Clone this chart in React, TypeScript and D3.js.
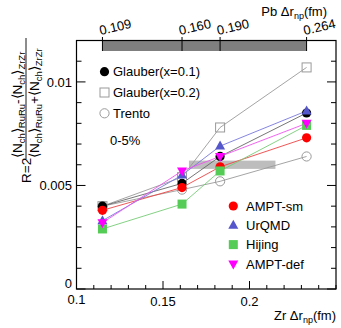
import React from "react";
import * as d3 from "d3";

const zrDeltaR = [0.115, 0.161, 0.183, 0.233];
const pbLabels = ["0.109", "0.160", "0.190", "0.264"];

const glauber01 = [0.0040, 0.0051, 0.0064, 0.0085];
const glauber02 = [0.0040, 0.0054, 0.0078, 0.0107];
const trento = [0.0040, 0.0048, 0.0052, 0.0064];
const amptSm = [0.0038, 0.0049, 0.0059, 0.0073];
const urqmd = [0.0033, 0.0055, 0.0069, 0.0086];
const hijing = [0.0029, 0.0041, 0.0057, 0.0079];
const amptDef = [0.0032, 0.0057, 0.0064, 0.0080];

const bandX = [0.165, 0.215];
const bandY = [0.0058, 0.0062];

const xMajor = [0.1, 0.15, 0.2];
const xMajorLabels = ["0.1", "0.15", "0.2"];
const yMajor = [0, 0.005, 0.01];
const yMajorLabels = ["0", "0.005", "0.01"];

type Series = { name: string; values: number[]; color: string; line: string; shape: string; fill: boolean };

const series: Series[] = [
  { name: "Glauber(x=0.2)", values: glauber02, color: "#9a9a9a", line: "#9a9a9a", shape: "square", fill: false },
  { name: "Trento", values: trento, color: "#9a9a9a", line: "#9a9a9a", shape: "circle", fill: false },
  { name: "Glauber(x=0.1)", values: glauber01, color: "#000000", line: "#666666", shape: "circle", fill: true },
  { name: "AMPT-sm", values: amptSm, color: "#ff0000", line: "#ee4444", shape: "circle", fill: true },
  { name: "Hijing", values: hijing, color: "#55cc55", line: "#77cc77", shape: "square", fill: true },
  { name: "UrQMD", values: urqmd, color: "#5555cc", line: "#7777dd", shape: "triangle", fill: true },
  { name: "AMPT-def", values: amptDef, color: "#ff00ff", line: "#ee55ee", shape: "invtriangle", fill: true },
];

const FONT = "'Liberation Sans', Arial, Helvetica, sans-serif";

function Marker({ shape, x, y, color, fill }: { shape: string; x: number; y: number; color: string; fill: boolean }) {
  const f = fill ? color : "white";
  const sw = fill ? 0 : 1;
  if (shape === "circle") return <circle cx={x} cy={y} r={4.6} fill={fill ? color : "none"} stroke={color} strokeWidth={fill ? 0 : 1} />;
  if (shape === "square") return <rect x={x - 4.5} y={y - 4.5} width={9} height={9} fill={fill ? color : "none"} stroke={color} strokeWidth={sw} />;
  if (shape === "triangle") return <path d={`M${x},${y - 5.5}L${x + 5},${y + 3.5}L${x - 5},${y + 3.5}Z`} fill={f} />;
  return <path d={`M${x},${y + 5.5}L${x + 5},${y - 3.5}L${x - 5},${y - 3.5}Z`} fill={f} />;
}

export default function App() {
  const W = 341, H = 328;
  const left = 76.5, right = 336, top = 40.5, bottom = 289;
  const x = d3.scaleLinear().domain([0.1, 0.25]).range([left, right]);
  const y = d3.scaleLinear().domain([0, 0.012]).range([bottom, top]);
  const line = d3.line<number>().x((_, i) => x(zrDeltaR[i])).y((v) => y(v));

  const xMinor = d3.range(0.1, 0.2501, 0.01);
  const yMinor = d3.range(0, 0.01201, 0.001);

  const leftLegend = [series[2], series[0], series[1]];
  const rightLegend = [series[3], series[5], series[4], series[6]];

  const sub = (t: string) => (
    <tspan fontSize={9.5} dy={3}>{t}</tspan>
  );

  return (
    <svg width={W} height={H} style={{ position: "absolute", left: 0, top: 0, background: "white" }} fontFamily={FONT}>
      {/* band */}
      <rect x={x(bandX[0])} y={y(bandY[1])} width={x(bandX[1]) - x(bandX[0])} height={y(bandY[0]) - y(bandY[1])} fill="#bdbdbd" />
      {/* top Pb bar */}
      <rect x={x(zrDeltaR[0])} y={top} width={x(zrDeltaR[3]) - x(zrDeltaR[0])} height={10.5} fill="#7f7f7f" />
      {/* frame */}
      <rect x={left} y={top} width={right - left} height={bottom - top} fill="none" stroke="black" strokeWidth={1.2} />
      {/* x ticks */}
      {xMinor.map((v, i) => {
        const major = xMajor.some((m) => Math.abs(m - v) < 1e-6);
        return <line key={"xt" + i} x1={x(v)} x2={x(v)} y1={bottom} y2={bottom - (major ? 8 : 4)} stroke="black" strokeWidth={1} />;
      })}
      {/* y ticks left and right */}
      {yMinor.map((v, i) => {
        const major = yMajor.some((m) => Math.abs(m - v) < 1e-7);
        const l = major ? 9 : 5;
        return (
          <g key={"yt" + i}>
            <line x1={left} x2={left + l} y1={y(v)} y2={y(v)} stroke="black" strokeWidth={1} />
            <line x1={right} x2={right - l} y1={y(v)} y2={y(v)} stroke="black" strokeWidth={1} />
          </g>
        );
      })}
      {/* top ticks */}
      {zrDeltaR.map((v, i) => (
        <line key={"tt" + i} x1={x(v)} x2={x(v)} y1={37} y2={51} stroke="black" strokeWidth={1} />
      ))}
      {/* tick labels */}
      {xMajor.map((v, i) => (
        <text key={"xl" + i} x={x(v)} y={i === 0 ? 304 : 306} textAnchor="middle" fontSize={13}>{xMajorLabels[i]}</text>
      ))}
      {yMajor.map((v, i) => (
        <text key={"yl" + i} x={72} y={y(v) + (i === 0 ? -1.5 : 5)} textAnchor="end" fontSize={13}>{yMajorLabels[i]}</text>
      ))}
      {zrDeltaR.map((v, i) => (
        <text key={"pl" + i} x={x(v) - 2} y={35} fontSize={13} transform={`rotate(-13 ${x(v) - 2} 35)`}>{pbLabels[i]}</text>
      ))}
      {/* axis titles */}
      <text x={right} y={320} textAnchor="end" fontSize={13}>Zr Δr<tspan fontSize={9} dy={3}>np</tspan><tspan dy={-3}>(fm)</tspan></text>
      <text x={327} y={16} textAnchor="end" fontSize={13}>Pb Δr<tspan fontSize={9} dy={3}>np</tspan><tspan dy={-3}>(fm)</tspan></text>
      <g transform="translate(26,112) rotate(-90)" fontSize={13.5}>
        <text x={-71} y={5}>R=2</text>
        <line x1={-47} x2={74} y1={0} y2={0} stroke="black" strokeWidth={0.9} />
        <text x={-46} y={-4}>⟨N{sub("ch")}<tspan dy={-3}>⟩</tspan>{sub("RuRu")}<tspan dy={-3}>-⟨N</tspan>{sub("ch")}<tspan dy={-3}>⟩</tspan>{sub("ZrZr")}</text>
        <text x={-46} y={13}>⟨N{sub("ch")}<tspan dy={-3}>⟩</tspan>{sub("RuRu")}<tspan dy={-3}>+⟨N</tspan>{sub("ch")}<tspan dy={-3}>⟩</tspan>{sub("ZrZr")}</text>
      </g>
      {/* lines */}
      {series.map((s) => (
        <path key={"l" + s.name} d={line(s.values) || ""} fill="none" stroke={s.line} strokeWidth={0.9} />
      ))}
      {/* markers */}
      {series.map((s) =>
        s.values.map((v, i) => (
          <Marker key={s.name + i} shape={s.shape} x={x(zrDeltaR[i])} y={y(v)} color={s.color} fill={s.fill} />
        ))
      )}
      {/* left legend */}
      {leftLegend.map((s, i) => (
        <g key={"ll" + s.name}>
          <Marker shape={s.shape} x={104.5} y={71.7 + i * 20.8} color={s.color} fill={s.fill} />
          <text x={113} y={71.7 + i * 20.8 + 4.7} fontSize={13}>{s.name}</text>
        </g>
      ))}
      <text x={110} y={144.5} fontSize={13}>0-5%</text>
      {/* right legend */}
      {rightLegend.map((s, i) => (
        <g key={"rl" + s.name}>
          <Marker shape={s.shape} x={233.3} y={206 + i * 19.3} color={s.color} fill={s.fill} />
          <text x={246} y={206 + i * 19.3 + 4.7} fontSize={13}>{s.name}</text>
        </g>
      ))}
    </svg>
  );
}
